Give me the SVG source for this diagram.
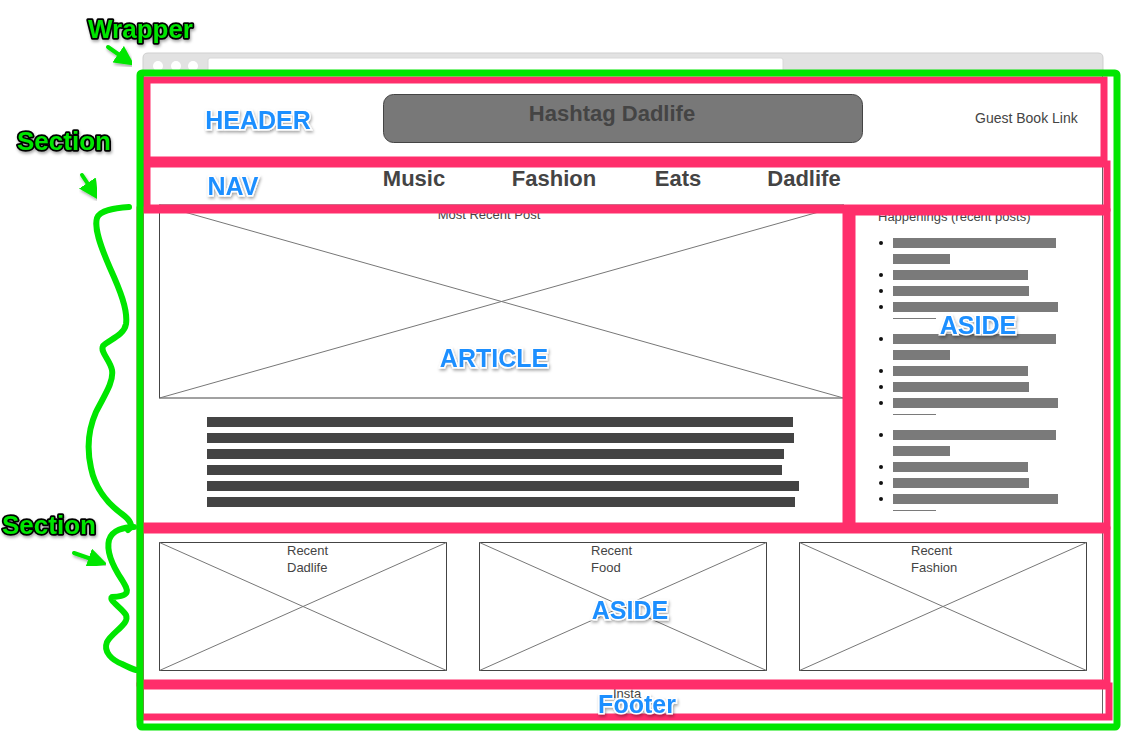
<svg xmlns="http://www.w3.org/2000/svg" width="1121" height="732" viewBox="0 0 1121 732">
<defs>
<filter id="sh" x="-20%" y="-40%" width="140%" height="180%"><feDropShadow dx="1" dy="2" stdDeviation="1.5" flood-color="#000" flood-opacity="0.35"/></filter>
<marker id="ah" viewBox="0 0 10 10" refX="6" refY="5" markerWidth="5" markerHeight="5" orient="auto" markerUnits="strokeWidth"><path d="M0,0 L10,5 L0,10 z" fill="#00e600"/></marker>
<style>
.pink{fill:none;stroke:#ff2e6b;stroke-width:7}
.lbl{font-family:"Liberation Sans",Arial,sans-serif;font-weight:bold;font-size:25px;fill:#1e8fff;stroke:#fff;stroke-width:3;paint-order:stroke;text-anchor:middle;filter:url(#sh)}
.ann{font-family:"Liberation Sans",Arial,sans-serif;font-weight:bold;font-size:26px;fill:#00e600;stroke:#000;stroke-width:3.5;paint-order:stroke;stroke-linejoin:round;filter:url(#sh)}
.t{font-family:"Liberation Sans",Arial,sans-serif;fill:#444}
.img{fill:#fff;stroke:#444;stroke-width:1}
.x{stroke:#777;stroke-width:1}
.dbar{fill:#444}
.lbar{fill:#7a7a7a}
.dot{fill:#111}
.gline{fill:none;stroke:#00e600;stroke-width:6;stroke-linecap:round;stroke-linejoin:round}
.arr{stroke:#00e600;stroke-width:4;stroke-linecap:round;marker-end:url(#ah);filter:url(#sh)}
</style>
</defs>
<rect width="1121" height="732" fill="#fff"/>
<g id="browser">
<path d="M143,76 V58 Q143,53 148,53 H1098 Q1103,53 1103,58 V76 Z" fill="#e2e2e2" stroke="#cfcfcf" stroke-width="1"/>
<circle cx="158" cy="66" r="5" fill="#fff"/>
<circle cx="176" cy="66" r="5" fill="#fff"/>
<circle cx="193" cy="66" r="5" fill="#fff"/>
<rect x="208" y="58" width="575" height="18" rx="2" fill="#fff" stroke="#d8d8d8"/>
<rect x="143.5" y="75.5" width="959" height="642" fill="#fff" stroke="#666" stroke-width="1"/>
</g>
<g id="header-content">
<rect x="383.5" y="94.5" width="479" height="48" rx="10" fill="#787878" stroke="#444"/>
<text class="t" x="612" y="121" font-size="22" font-weight="bold" text-anchor="middle">Hashtag Dadlife</text>
<text class="t" x="975" y="123" font-size="14">Guest Book Link</text>
</g>
<g id="nav-content" class="t" font-size="22" font-weight="bold" text-anchor="middle">
<text x="414" y="186">Music</text>
<text x="554" y="186">Fashion</text>
<text x="678" y="186">Eats</text>
<text x="804" y="186">Dadlife</text>
</g>
<g id="article-content">
<rect class="img" x="159.5" y="205" width="684" height="193"/>
<line class="x" x1="159.5" y1="205" x2="843.5" y2="398"/>
<line class="x" x1="159.5" y1="398" x2="843.5" y2="205"/>
<text class="t" x="489" y="219" font-size="13" text-anchor="middle">Most Recent Post</text>
<rect class="dbar" x="207" y="417" width="586" height="10"/>
<rect class="dbar" x="207" y="433" width="587" height="10"/>
<rect class="dbar" x="207" y="449" width="577" height="10"/>
<rect class="dbar" x="207" y="465" width="575" height="10"/>
<rect class="dbar" x="207" y="481" width="592" height="10"/>
<rect class="dbar" x="207" y="497" width="588" height="10"/>
</g>
<g id="aside-content">
<text class="t" x="878" y="221" font-size="13">Happenings (recent posts)</text>
<circle class="dot" cx="881" cy="243" r="2"/><rect class="lbar" x="893" y="238" width="163" height="10"/><rect class="lbar" x="893" y="254" width="57" height="10"/>
<circle class="dot" cx="881" cy="275" r="2"/><rect class="lbar" x="893" y="270" width="135" height="10"/>
<circle class="dot" cx="881" cy="291" r="2"/><rect class="lbar" x="893" y="286" width="136" height="10"/>
<circle class="dot" cx="881" cy="307" r="2"/><rect class="lbar" x="893" y="302" width="165" height="10"/><rect class="lbar" x="893" y="318" width="43" height="1"/>
<circle class="dot" cx="881" cy="339" r="2"/><rect class="lbar" x="893" y="334" width="163" height="10"/><rect class="lbar" x="893" y="350" width="57" height="10"/>
<circle class="dot" cx="881" cy="371" r="2"/><rect class="lbar" x="893" y="366" width="135" height="10"/>
<circle class="dot" cx="881" cy="387" r="2"/><rect class="lbar" x="893" y="382" width="136" height="10"/>
<circle class="dot" cx="881" cy="403" r="2"/><rect class="lbar" x="893" y="398" width="165" height="10"/><rect class="lbar" x="893" y="414" width="43" height="1"/>
<circle class="dot" cx="881" cy="435" r="2"/><rect class="lbar" x="893" y="430" width="163" height="10"/><rect class="lbar" x="893" y="446" width="57" height="10"/>
<circle class="dot" cx="881" cy="467" r="2"/><rect class="lbar" x="893" y="462" width="135" height="10"/>
<circle class="dot" cx="881" cy="483" r="2"/><rect class="lbar" x="893" y="478" width="136" height="10"/>
<circle class="dot" cx="881" cy="499" r="2"/><rect class="lbar" x="893" y="494" width="165" height="10"/><rect class="lbar" x="893" y="510" width="43" height="1"/>
</g>
<g id="recent-row">
<rect class="img" x="159.5" y="542.5" width="287" height="128"/>
<line class="x" x1="159.5" y1="542.5" x2="446.5" y2="670.5"/><line class="x" x1="159.5" y1="670.5" x2="446.5" y2="542.5"/>
<text class="t" x="287" y="555" font-size="13">Recent</text><text class="t" x="287" y="572" font-size="13">Dadlife</text>
<rect class="img" x="479.5" y="542.5" width="287" height="128"/>
<line class="x" x1="479.5" y1="542.5" x2="766.5" y2="670.5"/><line class="x" x1="479.5" y1="670.5" x2="766.5" y2="542.5"/>
<text class="t" x="591" y="555" font-size="13">Recent</text><text class="t" x="591" y="572" font-size="13">Food</text>
<rect class="img" x="799.5" y="542.5" width="287" height="128"/>
<line class="x" x1="799.5" y1="542.5" x2="1086.5" y2="670.5"/><line class="x" x1="799.5" y1="670.5" x2="1086.5" y2="542.5"/>
<text class="t" x="911" y="555" font-size="13">Recent</text><text class="t" x="911" y="572" font-size="13">Fashion</text>
</g>
<g id="footer-content">
<text class="t" x="613" y="698" font-size="13">Insta</text>
</g>
<g id="pink-sections">
<rect class="pink" x="147" y="80" width="957" height="80"/>
<rect class="pink" x="147" y="164" width="960" height="44"/>
<rect class="pink" x="140" y="210" width="706" height="316"/>
<rect class="pink" x="852" y="212" width="255" height="314"/>
<rect class="pink" x="140" y="530" width="967" height="153"/>
<rect class="pink" x="140" y="686" width="969" height="31"/>
</g>
<g id="labels">
<text class="lbl" x="258" y="129">HEADER</text>
<text class="lbl" x="233" y="195">NAV</text>
<text class="lbl" x="494" y="367">ARTICLE</text>
<text class="lbl" x="978" y="334">ASIDE</text>
<text class="lbl" x="630" y="619">ASIDE</text>
<text class="lbl" x="637" y="713">Footer</text>
</g>
<g id="wrapper">
<rect x="140" y="73" width="977" height="654" fill="none" stroke="#00e600" stroke-width="7" rx="2"/>
</g>
<g id="annotations">
<text class="ann" x="88" y="38">Wrapper</text>
<text class="ann" x="17" y="150">Section</text>
<text class="ann" x="2" y="534">Section</text>
<path class="gline" d="M129,207 C115,208 100,210 97,218 C94,228 100,245 110,268 C120,290 128,310 126,324 C124,336 108,340 103,346 C100,352 110,360 112,370 C114,382 104,396 96,412 C88,430 87,450 91,468 C95,488 108,504 122,514 C130,520 134,526 128,530"/>
<path class="gline" d="M134,527 C124,527 112,530 109,540 C106,552 114,568 122,580 C128,590 132,596 112,597 C108,600 122,608 126,615 C130,624 112,632 107,642 C103,652 112,660 122,664 C128,667 132,669 136,670"/>
</g>
<g id="connectors">
<line class="arr" x1="108" y1="47" x2="128" y2="61"/>
<line class="arr" x1="82" y1="175" x2="94" y2="193"/>
<line class="arr" x1="74" y1="553" x2="100" y2="562"/>
</g>
</svg>
